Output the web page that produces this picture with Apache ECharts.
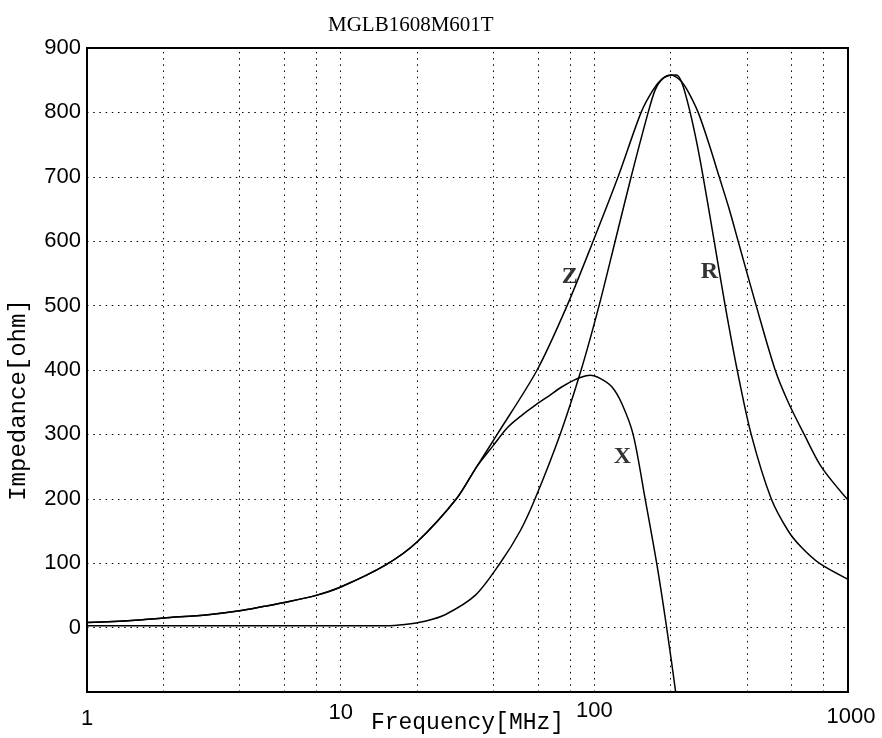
<!DOCTYPE html>
<html><head><meta charset="utf-8">
<script src="https://cdn.jsdelivr.net/npm/echarts@6/dist/echarts.min.js"></script>
<style>html,body{margin:0;padding:0;background:#fff}#c{width:882px;height:738px}</style>
</head><body><div id="c"></div>
<script>
// ---- chart text ----
const titleText = 'MGLB1608M601T';
const xName = 'Frequency[MHz]';
const yName = 'Impedance[ohm]';

// ---- axes ----
const xMin = 1, xMax = 1000;
const yMin = -100, yMax = 900, yStep = 100;
const xGridValues = [2, 4, 6, 8, 10, 20, 40, 60, 80, 100, 200, 400, 600, 800];

// ---- Z curve ----
const zFreq = [1, 1.5, 2, 3, 4, 5, 6, 8, 10, 15, 20, 28.6, 34.4, 41.4, 59.5, 78.1, 98.9, 124.1, 152.9, 170.5, 185.1, 200, 217.9, 232.2, 256.6, 283.6, 310.6, 340.1, 369, 434.5, 516.3, 581.3, 671.9, 784.1, 1000];
const zVal  = [8, 11, 15, 20, 26, 33, 39, 50, 63, 97, 133, 200, 250, 300, 400, 500, 600, 700, 800, 835, 852, 858, 850, 835, 800, 750, 700, 650, 600, 500, 400, 350, 300, 250, 198];

// ---- R curve ----
const rFreq = [1, 10, 15, 17.9, 21.5, 25.8, 33.9, 42.5, 51, 58.4, 73.3, 88.7, 104.4, 120.8, 139.7, 163, 173.7, 183.4, 195.4, 210.2, 221.9, 238.6, 254.3, 268.5, 296.8, 327.9, 365.7, 415.3, 498.1, 581.3, 654, 769.8, 1000];
const rVal  = [3, 3, 3, 5, 10, 20, 50, 100, 150, 200, 300, 400, 500, 600, 700, 800, 835, 850, 857, 858, 845, 800, 750, 700, 600, 500, 400, 300, 200, 150, 125, 100, 75];

// ---- X curve ----
const xFreq = [1, 1.5, 2, 3, 4, 5, 6, 8, 10, 15, 20, 28.6, 34.4, 40, 45.3, 51.9, 58.4, 66.3, 74.6, 84, 92.8, 96.3, 105.4, 117.2, 128.3, 142.2, 158.6, 176.1, 192.8, 209.2, 225];
const xVal  = [8, 11, 15, 20, 26, 33, 39, 50, 63, 97, 133, 200, 250, 283, 310, 330, 345, 360, 374, 385, 391, 392, 387, 374, 348, 300, 200, 100, 0, -100, -200];

// ---- curve tags ----
const tagNames = ['Z', 'R', 'X'];
const tagFreq  = [80, 284, 129];
const tagVal   = [545, 552, 265];

const pairs = (f, v) => f.map((x, i) => [x, v[i]]);
const dotted = { color: '#000', width: 1, type: [1.5, 4.7] };
const curveStyle = { color: '#000', width: 1.5 };
const labFont = 'Liberation Sans, Arial, sans-serif';
const richBase = { fontFamily: labFont, fontSize: 22, color: '#000' };

const chart = echarts.init(document.getElementById('c'), null, { renderer: 'canvas' });
chart.setOption({
  animation: false,
  backgroundColor: '#fff',
  title: {
    text: titleText, left: 323, top: 10,
    textStyle: { fontFamily: 'Liberation Serif, Times New Roman, serif', fontSize: 21, fontWeight: 'normal', color: '#000' }
  },
  grid: {
    left: 87, top: 48, right: 34, bottom: 46, containLabel: false, outerBoundsMode: 'none',
    show: true, borderColor: '#000', borderWidth: 2, backgroundColor: 'transparent'
  },
  xAxis: {
    type: 'log', logBase: 10, min: xMin, max: xMax,
    name: xName, nameLocation: 'middle', nameGap: 19, nameMoveOverlap: false,
    nameTextStyle: { fontFamily: 'Liberation Mono, Courier New, monospace', fontSize: 23, color: '#000' },
    axisLine: { show: false }, axisTick: { show: false }, splitLine: { show: false },
    axisLabel: {
      margin: 7, color: '#000', fontFamily: labFont, fontSize: 22,
      formatter: v => {
        const r = Math.round(v);
        const k = { 1: 'a', 10: 'b', 100: 'c', 1000: 'd' }[r] || 'c';
        return '{' + k + '|' + r + '}';
      },
      rich: {
        a: Object.assign({ padding: [9, 0, 0, 0] }, richBase),
        b: Object.assign({ padding: [3, 0, 0, 0] }, richBase),
        c: Object.assign({ padding: [1, 0, 0, 0] }, richBase),
        d: Object.assign({ padding: [7, 0, 0, 6] }, richBase)
      }
    }
  },
  yAxis: {
    type: 'value', min: yMin, max: yMax, interval: yStep,
    name: yName, nameLocation: 'middle', nameGap: 56, nameMoveOverlap: false,
    nameTextStyle: { fontFamily: 'Liberation Mono, Courier New, monospace', fontSize: 24, color: '#000', padding: [0, 60, 0, 0] },
    axisLine: { show: false }, axisTick: { show: false },
    axisLabel: { margin: 6, color: '#000', fontFamily: labFont, fontSize: 22, formatter: v => (v === yMin ? '' : String(v)) },
    splitLine: { show: true, lineStyle: dotted }
  },
  series: [
    {
      name: 'Z', type: 'line', data: pairs(zFreq, zVal), showSymbol: false, smooth: 0.3,
      lineStyle: curveStyle, silent: true, z: 3,
      markLine: {
        silent: true, symbol: ['none', 'none'], label: { show: false }, lineStyle: dotted,
        data: xGridValues.map(v => ({ xAxis: v }))
      }
    },
    { name: 'R', type: 'line', data: pairs(rFreq, rVal), showSymbol: false, smooth: 0.3, lineStyle: curveStyle, silent: true, z: 3 },
    { name: 'X', type: 'line', data: pairs(xFreq, xVal), showSymbol: false, smooth: 0.3, lineStyle: curveStyle, silent: true, z: 3 },
    {
      name: 'tags', type: 'scatter', symbolSize: 1, itemStyle: { color: 'rgba(0,0,0,0)' }, silent: true, z: 5,
      data: tagNames.map((n, i) => [tagFreq[i], tagVal[i], n]),
      label: {
        show: true, position: 'inside', formatter: p => p.value[2],
        fontFamily: 'Liberation Serif, Times New Roman, serif', fontWeight: 'bold', fontSize: 24, color: '#000'
      }
    }
  ]
});
</script>
</body></html>
